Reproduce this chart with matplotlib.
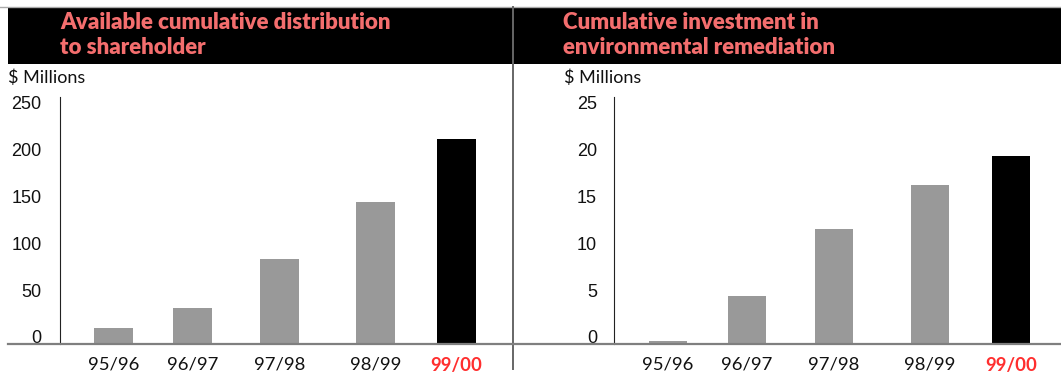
import matplotlib
matplotlib.use("Agg")
import matplotlib.pyplot as plt
from matplotlib.lines import Line2D
from matplotlib.patches import Rectangle
from matplotlib.transforms import ScaledTranslation

# ---------------- data ----------------
periods = ["95/96", "96/97", "97/98", "98/99", "99/00"]
distribution = [17, 37.5, 90, 151, 218.5]          # $ millions
remediation = [0.3, 5.1, 12.2, 16.9, 20.1]         # $ millions
left_ticks = [0, 50, 100, 150, 200, 250]
right_ticks = [0, 5, 10, 15, 20, 25]
left_title = "Available cumulative distribution\nto shareholder"
right_title = "Cumulative investment in\nenvironmental remediation"
unit_label = "$ Millions"

# ---------------- layout (pixels) ----------------
W, H = 1061, 385
DPI = 100
slot_pos = [54, 133, 220, 316, 397]   # bar centres, px from y-axis
bar_w = 38.7
base_y = 343.5
axis_top = 97

GREY = "#999999"
SALMON = "#F46E6E"
RED = "#FF2E2E"

fig = plt.figure(figsize=(W / DPI, H / DPI), dpi=DPI)


def fx(x):
    return x / W


def fy(y):
    return 1 - y / H


def make_panel(x0, x1, values, ticks, label_right):
    ax = fig.add_axes([fx(x0), fy(base_y), fx(x1) - fx(x0), fy(axis_top) - fy(base_y)])
    top_val = ticks[-1] * (base_y - axis_top) / (base_y - 105 - 4.7)
    ax.set_xlim(0, x1 - x0)
    ax.set_ylim(0, top_val)
    colors = [GREY] * (len(values) - 1) + ["black"]
    ax.bar(slot_pos, values, width=bar_w, color=colors, linewidth=0)
    for s in ["top", "right", "bottom"]:
        ax.spines[s].set_visible(False)
    ax.spines["left"].set_color("#222222")
    ax.spines["left"].set_linewidth(0.8)
    ax.set_yticks([])
    ax.set_xticks(slot_pos)
    ax.set_xticklabels(periods, fontfamily="Lato", fontsize=13.3, color="#111111")
    lbls = ax.get_xticklabels()
    lbls[-1].set_color(RED)
    lbls[-1].set_fontweight("bold")
    ax.tick_params(axis="x", length=0, pad=9.5)
    # y labels, slightly raised above their value
    tr = ax.get_yaxis_transform() + ScaledTranslation(0, 3.4 / 72, fig.dpi_scale_trans)
    for t in ticks:
        ax.text(-(x0 - label_right) / (x1 - x0), t, str(t), transform=tr,
                ha="right", va="center", fontfamily="Liberation Sans",
                fontsize=13, color="#111111")
    return ax


make_panel(59.5, 513, distribution, left_ticks, 41.7)
make_panel(614, 1061, remediation, right_ticks, 597)

# header band and frame lines
fig.add_artist(Rectangle((fx(8), fy(63.5)), fx(W) - fx(8), fy(8) - fy(63.5),
                         transform=fig.transFigure, facecolor="black", edgecolor="none", zorder=1))
fig.add_artist(Line2D([0, 1], [fy(7.3), fy(7.3)], transform=fig.transFigure,
                      color="#aaaaaa", lw=1.0, zorder=2))
fig.add_artist(Line2D([fx(513), fx(513)], [fy(7), fy(369)], transform=fig.transFigure,
                      color="#666666", lw=1.4, zorder=2))
fig.add_artist(Line2D([fx(8), 1], [fy(base_y), fy(base_y)], transform=fig.transFigure,
                      color="#7f7f7f", lw=1.6, zorder=3))

# titles
for x, title in [(60, left_title), (563, right_title)]:
    fig.text(fx(x), fy(35), title, ha="left", va="center", fontfamily="Lato",
             fontweight="heavy", fontsize=16, color=SALMON, linespacing=1.2, zorder=4)

# unit labels
for x in [8, 564]:
    fig.text(fx(x), fy(78), unit_label, ha="left", va="center", fontfamily="Lato",
             fontsize=13, color="#111111")

fig.savefig("out.png", dpi=DPI)
